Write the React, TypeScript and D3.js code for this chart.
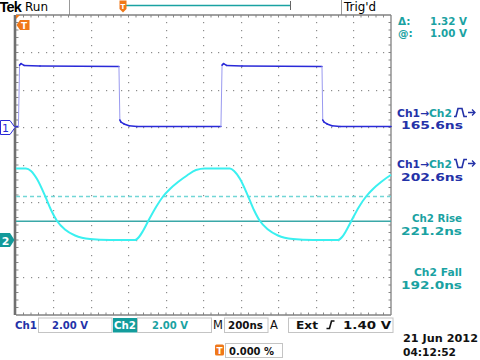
import React from 'react';
import * as d3 from 'd3';

// ---- data (time in ns, voltage in V) ----
const ch1Time = [0, 13, 19, 27, 43, 128, 549, 554, 560, 576, 603, 645, 1093, 1099, 1107, 1123, 1205, 1632, 1636, 1643, 1659, 1685, 1728, 2000];
const ch1Volts = [0.05, 0.05, 3.33, 3.41, 3.31, 3.28, 3.25, 0.4, 0.29, 0.19, 0.09, 0.05, 0.05, 3.33, 3.41, 3.31, 3.28, 3.25, 0.4, 0.29, 0.19, 0.09, 0.05, 0.05];

const ch2Time = [0, 53, 80, 112, 155, 187, 219, 261, 315, 395, 501, 635, 656, 677, 704, 747, 784, 821, 864, 912, 960, 1008, 1141, 1163, 1195, 1237, 1269, 1301, 1344, 1397, 1477, 1584, 1717, 1739, 1760, 1787, 1829, 1867, 1904, 1947, 1995, 2000];
const ch2Volts = [3.81, 3.81, 3.68, 3.25, 2.35, 1.6, 1.01, 0.56, 0.24, 0.05, 0, 0, 0.16, 0.48, 0.99, 1.76, 2.32, 2.72, 3.09, 3.44, 3.73, 3.81, 3.81, 3.68, 3.25, 2.35, 1.6, 1.01, 0.56, 0.24, 0.05, 0, 0, 0.16, 0.48, 0.99, 1.76, 2.32, 2.72, 3.09, 3.44, 3.47];

const cursorLevel = 1.0; // V
const cursorDelta = 1.32; // V
const timePerDiv = 200; // ns
const voltsPerDiv = [2.0, 2.0];
const xDivs = 10;
const yDivs = 8;
const groundDiv = [3, 6]; // divisions from top

const measTitles = ['Ch2 Rise', 'Ch2 Fall'];
const measValues = ['165.6ns', '202.6ns', '221.2ns', '192.0ns'];

const BLUE = '#2a2ad8';
const BLUE_TXT = '#2432a8';
const CYAN = '#3af0f0';
const TEAL = '#1aa2a2';
const ORANGE = '#f07818';
const FONT = '"DejaVu Sans", sans-serif';

export default function App() {
  const W = 480, H = 360;
  const gx0 = 16, gx1 = 391, gy0 = 15, gy1 = 315;
  const x = d3.scaleLinear().domain([0, timePerDiv * xDivs]).range([gx0, gx1]);
  const div = (gy1 - gy0) / yDivs;
  const y1 = d3.scaleLinear().domain([0, voltsPerDiv[0]]).range([gy0 + groundDiv[0] * div, gy0 + (groundDiv[0] - 1) * div]);
  const y2 = d3.scaleLinear().domain([0, voltsPerDiv[1]]).range([gy0 + groundDiv[1] * div, gy0 + (groundDiv[1] - 1) * div]);
  const sub = div / 5;

  // grid dots
  const dots: JSX.Element[] = [];
  for (let k = 1; k < xDivs; k++) {
    const xx = Math.floor(x(k * timePerDiv));
    for (let j = 1; j < yDivs * 5; j++) {
      dots.push(<rect key={`v${k}-${j}`} x={xx} y={Math.floor(gy0 + j * sub)} width={1.2} height={1.2} fill="#8c8c8c" />);
    }
  }
  for (let k = 1; k < yDivs; k++) {
    const yy = Math.floor(gy0 + k * div);
    for (let j = 1; j < xDivs * 5; j++) {
      dots.push(<rect key={`h${k}-${j}`} x={Math.floor(gx0 + j * sub)} y={yy} width={1.2} height={1.2} fill="#8c8c8c" />);
    }
  }
  const ticks: JSX.Element[] = [];
  for (let j = 1; j < xDivs * 5; j++) {
    const xx = gx0 + j * sub;
    ticks.push(<line key={`tt${j}`} x1={xx} x2={xx} y1={gy0} y2={gy0 + 2.5} stroke="#888" strokeWidth={1} />);
    ticks.push(<line key={`tb${j}`} x1={xx} x2={xx} y1={gy1} y2={gy1 - 2.5} stroke="#888" strokeWidth={1} />);
  }
  for (let j = 1; j < yDivs * 5; j++) {
    const yy = gy0 + j * sub;
    ticks.push(<line key={`tl${j}`} x1={gx0} x2={gx0 + 2.5} y1={yy} y2={yy} stroke="#888" strokeWidth={1} />);
    ticks.push(<line key={`tr${j}`} x1={gx1} x2={gx1 - 2.5} y1={yy} y2={yy} stroke="#888" strokeWidth={1} />);
  }

  // ch1 segments
  const ch1Pts = ch1Time.map((t, i) => [x(t), y1(ch1Volts[i])] as [number, number]);
  const ch1Segs = ch1Pts.slice(1).map((p, i) => {
    const a = ch1Pts[i];
    const steep = Math.abs(p[1] - a[1]) > 3 * Math.abs(p[0] - a[0]) && Math.abs(p[1] - a[1]) > 20;
    return (
      <line key={`c1${i}`} x1={a[0]} y1={a[1]} x2={p[0]} y2={p[1]}
        stroke={steep ? '#9a9af0' : BLUE} strokeWidth={steep ? 1 : 1.6} strokeLinecap="round" />
    );
  });

  const ch2Line = d3.line<number>()
    .x((_, i) => x(ch2Time[i]))
    .y((v) => y2(v))
    .curve(d3.curveMonotoneX);

  const cy1 = y2(cursorLevel);
  const cy2 = y2(cursorLevel + cursorDelta);

  const txt = (props: any, s: React.ReactNode) => (
    <text fontFamily={FONT} fontSize={11} fontWeight="bold" {...props}>{s}</text>
  );

  // edge symbols
  const pulseUp = (x0: number, yb: number) =>
    `M${x0},${yb} L${x0 + 2},${yb} L${x0 + 4},${yb - 8} L${x0 + 8},${yb - 8} L${x0 + 10},${yb} L${x0 + 13},${yb}`;
  const pulseDown = (x0: number, yb: number) =>
    `M${x0},${yb - 8} L${x0 + 2},${yb - 8} L${x0 + 4},${yb} L${x0 + 8},${yb} L${x0 + 10},${yb - 8} L${x0 + 13},${yb - 8}`;
  const arrowHead = (x0: number, yy: number) => `M${x0},${yy} L${x0 + 7},${yy} M${x0 + 4},${yy - 3} L${x0 + 7},${yy} L${x0 + 4},${yy + 3}`;

  return (
    <svg width={W} height={H} viewBox={`0 0 ${W} ${H}`}
      style={{ position: 'absolute', left: 0, top: 0, background: '#fff' }}>
      <rect x={0} y={0} width={W} height={H} fill="#fff" />

      {/* top bar */}
      <text x={-0.5} y={11.5} fontFamily='"Liberation Sans", sans-serif' fontSize={14.5} fontWeight="bold" letterSpacing={-0.8} fill="#000">Tek</text>
      <text x={25} y={11} fontFamily={FONT} fontSize={11.5} fill="#000" textLength={23} lengthAdjust="spacingAndGlyphs">Run</text>
      <line x1={69.5} x2={69.5} y1={0} y2={gy0} stroke="#999" strokeWidth={1} />
      <line x1={126} x2={290} y1={5.5} y2={5.5} stroke={TEAL} strokeWidth={1.5} />
      <line x1={290.5} x2={290.5} y1={1} y2={10} stroke="#666" strokeWidth={1} />
      <path d="M119.5,0.5 L126.5,0.5 L126.5,9 L123,12.5 L119.5,9 Z" fill={ORANGE} />
      <text x={123} y={8.5} fontFamily={FONT} fontSize={7} fontWeight="bold" fill="#fff" textAnchor="middle">T</text>
      <line x1={341.5} x2={341.5} y1={0} y2={gy0} stroke="#999" strokeWidth={1} />
      <text x={344} y={11} fontFamily={FONT} fontSize={11.5} fill="#000" textLength={32} lengthAdjust="spacingAndGlyphs">Trig'd</text>

      {/* graticule */}
      {dots}
      {ticks}
      <line x1={gx0} x2={gx1} y1={gy0} y2={gy0} stroke="#808080" strokeWidth={1.3} />
      <line x1={gx0} x2={gx1} y1={gy1} y2={gy1} stroke="#808080" strokeWidth={1.3} />
      <line x1={gx1} x2={gx1} y1={gy0} y2={gy1} stroke="#808080" strokeWidth={1.3} />
      <line x1={gx0 - 1} x2={gx0 - 1} y1={gy0} y2={gy1} stroke="#707070" strokeWidth={2.6} />

      {/* cursors */}
      <line x1={gx0} x2={gx1} y1={cy1} y2={cy1} stroke="#3aa8a8" strokeWidth={1.3} />
      <line x1={gx0} x2={gx1} y1={cy2} y2={cy2} stroke="#72d6d6" strokeWidth={1.5} strokeDasharray="4 3" />

      {/* waveforms */}
      <path d={ch2Line(ch2Volts) || ''} fill="none" stroke={CYAN} strokeWidth={2} />
      {ch1Segs}

      {/* trigger marker */}
      <path d={`M${gx0},${gy0} L${gx0 + 4},${gy0} L${gx0},${gy0 + 4} Z`} fill={ORANGE} />
      <path d="M16.5,25 L20,20 L29.5,20 L29.5,30 L20,30 Z" fill={ORANGE} />
      <text x={24} y={28.5} fontFamily={FONT} fontSize={9} fontWeight="bold" fill="#fff" textAnchor="middle">T</text>

      {/* channel markers */}
      <path d={`M0.5,${y1(0) - 7} L10,${y1(0) - 7} L15,${y1(0)} L10,${y1(0) + 7} L0.5,${y1(0) + 7} Z`} fill="#fff" stroke={BLUE} strokeWidth={1} />
      {txt({ x: 5.5, y: y1(0) + 4.5, fill: BLUE, textAnchor: 'middle', fontSize: 11, fontWeight: 'normal' }, '1')}
      <path d={`M0,${y2(0) - 7} L10,${y2(0) - 7} L14.5,${y2(0)} L10,${y2(0) + 7} L0,${y2(0) + 7} Z`} fill="#139a9a" />
      {txt({ x: 5.5, y: y2(0) + 4.5, fill: '#fff', textAnchor: 'middle' }, '2')}

      {/* right panel */}
      {txt({ x: 398, y: 25, fill: TEAL, fontSize: 10.5 }, 'Δ:')}
      {txt({ x: 430, y: 25, fill: TEAL, fontSize: 10.5, textLength: 37, lengthAdjust: 'spacingAndGlyphs' }, `${cursorDelta.toFixed(2)} V`)}
      {txt({ x: 398, y: 37, fill: TEAL, fontSize: 10.5 }, '@:')}
      {txt({ x: 430, y: 37, fill: TEAL, fontSize: 10.5, textLength: 37, lengthAdjust: 'spacingAndGlyphs' }, `${cursorLevel.toFixed(2)} V`)}

      <text x={397} y={117} fontFamily={FONT} fontSize={11} fontWeight="bold" textLength={55} lengthAdjust="spacingAndGlyphs">
        <tspan fill={BLUE_TXT}>Ch1→</tspan><tspan fill={TEAL}>Ch2</tspan>
      </text>
      <path d={pulseUp(454, 116.5)} fill="none" stroke={BLUE_TXT} strokeWidth={1.6} />
      <path d={arrowHead(468, 112.5)} fill="none" stroke={BLUE_TXT} strokeWidth={1.3} />
      {txt({ x: 401, y: 129, fill: BLUE_TXT, textLength: 62, lengthAdjust: 'spacingAndGlyphs' }, measValues[0])}

      <text x={397} y={168} fontFamily={FONT} fontSize={11} fontWeight="bold" textLength={55} lengthAdjust="spacingAndGlyphs">
        <tspan fill={BLUE_TXT}>Ch1→</tspan><tspan fill={TEAL}>Ch2</tspan>
      </text>
      <path d={pulseDown(454, 167.5)} fill="none" stroke={BLUE_TXT} strokeWidth={1.6} />
      <path d={arrowHead(468, 163.5)} fill="none" stroke={BLUE_TXT} strokeWidth={1.3} />
      {txt({ x: 401, y: 181, fill: BLUE_TXT, textLength: 62, lengthAdjust: 'spacingAndGlyphs' }, measValues[1])}

      {txt({ x: 412, y: 222, fill: TEAL, textLength: 50, lengthAdjust: 'spacingAndGlyphs' }, measTitles[0])}
      {txt({ x: 401, y: 235, fill: TEAL, textLength: 61, lengthAdjust: 'spacingAndGlyphs' }, measValues[2])}
      {txt({ x: 414, y: 276, fill: TEAL, textLength: 48, lengthAdjust: 'spacingAndGlyphs' }, measTitles[1])}
      {txt({ x: 401, y: 289, fill: TEAL, textLength: 61, lengthAdjust: 'spacingAndGlyphs' }, measValues[3])}

      {/* bottom bar */}
      {txt({ x: 15, y: 329, fill: BLUE_TXT, textLength: 22, lengthAdjust: 'spacingAndGlyphs' }, 'Ch1')}
      <rect x={38.5} y={318} width={73.5} height={14.5} fill="none" stroke="#c4c4c4" />
      {txt({ x: 52, y: 329, fill: BLUE_TXT, textLength: 36, lengthAdjust: 'spacingAndGlyphs' }, `${voltsPerDiv[0].toFixed(2)} V`)}
      <rect x={113} y={318} width={24} height={14.5} fill="#139c9c" />
      {txt({ x: 114, y: 329, fill: '#fff', textLength: 22, lengthAdjust: 'spacingAndGlyphs' }, 'Ch2')}
      <rect x={137.5} y={318} width={74} height={14.5} fill="none" stroke="#c4c4c4" />
      {txt({ x: 152, y: 329, fill: TEAL, textLength: 36, lengthAdjust: 'spacingAndGlyphs' }, `${voltsPerDiv[1].toFixed(2)} V`)}
      {txt({ x: 213, y: 329, fill: '#111', fontWeight: 'normal', fontSize: 11.5 }, 'M')}
      <rect x={224.5} y={318} width={43.5} height={14.5} fill="none" stroke="#c4c4c4" />
      {txt({ x: 228, y: 329, fill: '#111', textLength: 35, lengthAdjust: 'spacingAndGlyphs' }, `${timePerDiv}ns`)}
      {txt({ x: 270, y: 329, fill: '#111', fontWeight: 'normal', fontSize: 11.5 }, 'A')}
      <rect x={288.5} y={318} width={104.5} height={14.5} fill="none" stroke="#c4c4c4" />
      {txt({ x: 296, y: 329, fill: '#111', textLength: 22, lengthAdjust: 'spacingAndGlyphs' }, 'Ext')}
      <path d="M326.5,328.5 L329.5,328.5 L331.5,321 L334.5,321" fill="none" stroke="#111" strokeWidth={1.6} />
      {txt({ x: 343, y: 329, fill: '#111', textLength: 48, lengthAdjust: 'spacingAndGlyphs' }, '1.40 V')}

      <rect x={215} y={344.5} width={9} height={11} rx={1.5} fill={ORANGE} />
      <text x={219.5} y={353.5} fontFamily={FONT} fontSize={9} fontWeight="bold" fill="#fff" textAnchor="middle">T</text>
      <rect x={225.5} y={343.5} width={57} height={14} fill="none" stroke="#c4c4c4" />
      {txt({ x: 229, y: 355, fill: '#111', textLength: 45, lengthAdjust: 'spacingAndGlyphs' }, '0.000 %')}

      {txt({ x: 403, y: 342, fill: '#111', textLength: 75, lengthAdjust: 'spacingAndGlyphs' }, '21 Jun  2012')}
      {txt({ x: 403, y: 356, fill: '#111', textLength: 53, lengthAdjust: 'spacingAndGlyphs' }, '04:12:52')}
    </svg>
  );
}
